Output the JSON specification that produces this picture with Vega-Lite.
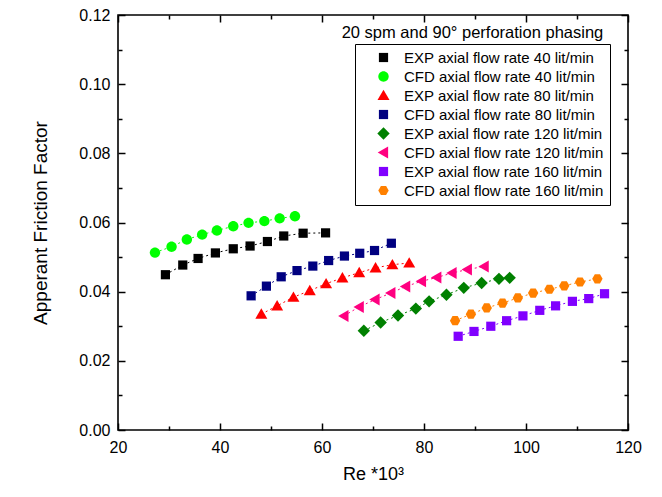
{
  "$schema": "https://vega.github.io/schema/vega-lite/v6.json",
  "width": 510,
  "height": 415,
  "autosize": {"type": "none"},
  "padding": {"left": 118, "top": 15, "right": 34, "bottom": 67},
  "background": "white",
  "config": {
    "font": "Liberation Sans",
    "view": {"stroke": "black", "strokeWidth": 1.6},
    "axis": {
      "grid": false,
      "domain": false,
      "tickColor": "black",
      "tickWidth": 1.5,
      "labelColor": "black",
      "titleColor": "black",
      "labelFont": "Liberation Sans",
      "titleFont": "Liberation Sans",
      "labelFontSize": 16,
      "titleFontSize": 18,
      "titleFontWeight": "normal"
    },
    "legend": {
      "labelFont": "Liberation Sans",
      "labelFontSize": 15,
      "labelColor": "black",
      "labelLimit": 400,
      "strokeColor": "black",
      "fillColor": "white",
      "padding": 6,
      "symbolOffset": 15,
      "labelOffset": 13,
      "rowPadding": 3,
      "symbolSize": 64
    }
  },
  "data": {
    "values": [
      {"s": "EXP axial flow rate 40 lit/min", "re": 29.3, "f": 0.0449},
      {"s": "EXP axial flow rate 40 lit/min", "re": 32.7, "f": 0.0477},
      {"s": "EXP axial flow rate 40 lit/min", "re": 35.7, "f": 0.0496},
      {"s": "EXP axial flow rate 40 lit/min", "re": 39.1, "f": 0.0512},
      {"s": "EXP axial flow rate 40 lit/min", "re": 42.6, "f": 0.0524},
      {"s": "EXP axial flow rate 40 lit/min", "re": 45.9, "f": 0.0532},
      {"s": "EXP axial flow rate 40 lit/min", "re": 49.3, "f": 0.0545},
      {"s": "EXP axial flow rate 40 lit/min", "re": 52.5, "f": 0.0561},
      {"s": "EXP axial flow rate 40 lit/min", "re": 56.3, "f": 0.0569},
      {"s": "EXP axial flow rate 40 lit/min", "re": 60.7, "f": 0.0570},
      {"s": "CFD axial flow rate 40 lit/min", "re": 27.25, "f": 0.0513},
      {"s": "CFD axial flow rate 40 lit/min", "re": 30.5, "f": 0.0530},
      {"s": "CFD axial flow rate 40 lit/min", "re": 33.5, "f": 0.0551},
      {"s": "CFD axial flow rate 40 lit/min", "re": 36.5, "f": 0.0565},
      {"s": "CFD axial flow rate 40 lit/min", "re": 39.4, "f": 0.0577},
      {"s": "CFD axial flow rate 40 lit/min", "re": 42.6, "f": 0.0589},
      {"s": "CFD axial flow rate 40 lit/min", "re": 45.6, "f": 0.0599},
      {"s": "CFD axial flow rate 40 lit/min", "re": 48.7, "f": 0.0604},
      {"s": "CFD axial flow rate 40 lit/min", "re": 51.7, "f": 0.0612},
      {"s": "CFD axial flow rate 40 lit/min", "re": 54.7, "f": 0.0618},
      {"s": "EXP axial flow rate 80 lit/min", "re": 48.1, "f": 0.0335},
      {"s": "EXP axial flow rate 80 lit/min", "re": 51.2, "f": 0.0359},
      {"s": "EXP axial flow rate 80 lit/min", "re": 54.4, "f": 0.0384},
      {"s": "EXP axial flow rate 80 lit/min", "re": 57.6, "f": 0.0403},
      {"s": "EXP axial flow rate 80 lit/min", "re": 60.8, "f": 0.0423},
      {"s": "EXP axial flow rate 80 lit/min", "re": 64.0, "f": 0.0440},
      {"s": "EXP axial flow rate 80 lit/min", "re": 67.3, "f": 0.0455},
      {"s": "EXP axial flow rate 80 lit/min", "re": 70.5, "f": 0.0469},
      {"s": "EXP axial flow rate 80 lit/min", "re": 73.8, "f": 0.0478},
      {"s": "EXP axial flow rate 80 lit/min", "re": 77.1, "f": 0.0483},
      {"s": "CFD axial flow rate 80 lit/min", "re": 46.1, "f": 0.0388},
      {"s": "CFD axial flow rate 80 lit/min", "re": 49.1, "f": 0.0416},
      {"s": "CFD axial flow rate 80 lit/min", "re": 52.0, "f": 0.0443},
      {"s": "CFD axial flow rate 80 lit/min", "re": 55.1, "f": 0.0461},
      {"s": "CFD axial flow rate 80 lit/min", "re": 58.2, "f": 0.0474},
      {"s": "CFD axial flow rate 80 lit/min", "re": 61.3, "f": 0.0490},
      {"s": "CFD axial flow rate 80 lit/min", "re": 64.4, "f": 0.0503},
      {"s": "CFD axial flow rate 80 lit/min", "re": 67.4, "f": 0.0511},
      {"s": "CFD axial flow rate 80 lit/min", "re": 70.3, "f": 0.0519},
      {"s": "CFD axial flow rate 80 lit/min", "re": 73.6, "f": 0.0540},
      {"s": "EXP axial flow rate 120 lit/min", "re": 68.2, "f": 0.0287},
      {"s": "EXP axial flow rate 120 lit/min", "re": 71.5, "f": 0.0311},
      {"s": "EXP axial flow rate 120 lit/min", "re": 74.9, "f": 0.0331},
      {"s": "EXP axial flow rate 120 lit/min", "re": 78.4, "f": 0.0351},
      {"s": "EXP axial flow rate 120 lit/min", "re": 81.0, "f": 0.0372},
      {"s": "EXP axial flow rate 120 lit/min", "re": 84.4, "f": 0.0391},
      {"s": "EXP axial flow rate 120 lit/min", "re": 87.8, "f": 0.0411},
      {"s": "EXP axial flow rate 120 lit/min", "re": 91.3, "f": 0.0425},
      {"s": "EXP axial flow rate 120 lit/min", "re": 94.7, "f": 0.0437},
      {"s": "EXP axial flow rate 120 lit/min", "re": 96.8, "f": 0.0440},
      {"s": "CFD axial flow rate 120 lit/min", "re": 64.3, "f": 0.0330},
      {"s": "CFD axial flow rate 120 lit/min", "re": 67.3, "f": 0.0356},
      {"s": "CFD axial flow rate 120 lit/min", "re": 70.4, "f": 0.0377},
      {"s": "CFD axial flow rate 120 lit/min", "re": 73.5, "f": 0.0396},
      {"s": "CFD axial flow rate 120 lit/min", "re": 76.4, "f": 0.0415},
      {"s": "CFD axial flow rate 120 lit/min", "re": 79.5, "f": 0.0430},
      {"s": "CFD axial flow rate 120 lit/min", "re": 82.5, "f": 0.0441},
      {"s": "CFD axial flow rate 120 lit/min", "re": 85.5, "f": 0.0454},
      {"s": "CFD axial flow rate 120 lit/min", "re": 88.5, "f": 0.0464},
      {"s": "CFD axial flow rate 120 lit/min", "re": 91.8, "f": 0.0473},
      {"s": "EXP axial flow rate 160 lit/min", "re": 86.7, "f": 0.0271},
      {"s": "EXP axial flow rate 160 lit/min", "re": 89.8, "f": 0.0285},
      {"s": "EXP axial flow rate 160 lit/min", "re": 93.1, "f": 0.0300},
      {"s": "EXP axial flow rate 160 lit/min", "re": 96.2, "f": 0.0316},
      {"s": "EXP axial flow rate 160 lit/min", "re": 99.4, "f": 0.0330},
      {"s": "EXP axial flow rate 160 lit/min", "re": 102.7, "f": 0.0346},
      {"s": "EXP axial flow rate 160 lit/min", "re": 105.8, "f": 0.0359},
      {"s": "EXP axial flow rate 160 lit/min", "re": 109.1, "f": 0.0372},
      {"s": "EXP axial flow rate 160 lit/min", "re": 112.3, "f": 0.0380},
      {"s": "EXP axial flow rate 160 lit/min", "re": 115.4, "f": 0.0394},
      {"s": "CFD axial flow rate 160 lit/min", "re": 86.1, "f": 0.0316},
      {"s": "CFD axial flow rate 160 lit/min", "re": 89.2, "f": 0.0335},
      {"s": "CFD axial flow rate 160 lit/min", "re": 92.3, "f": 0.0353},
      {"s": "CFD axial flow rate 160 lit/min", "re": 95.4, "f": 0.0367},
      {"s": "CFD axial flow rate 160 lit/min", "re": 98.4, "f": 0.0382},
      {"s": "CFD axial flow rate 160 lit/min", "re": 101.4, "f": 0.0396},
      {"s": "CFD axial flow rate 160 lit/min", "re": 104.6, "f": 0.0407},
      {"s": "CFD axial flow rate 160 lit/min", "re": 107.5, "f": 0.0417},
      {"s": "CFD axial flow rate 160 lit/min", "re": 110.6, "f": 0.0428},
      {"s": "CFD axial flow rate 160 lit/min", "re": 114.0, "f": 0.0437}
    ]
  },
  "layer": [
    {
      "mark": {"type": "line", "strokeDash": [2, 3], "strokeWidth": 1},
      "encoding": {
        "x": {
          "field": "re", "type": "quantitative",
          "scale": {"domain": [20, 120], "nice": false, "zero": false},
          "axis": {
            "orient": "bottom",
            "values": [20, 30, 40, 50, 60, 70, 80, 90, 100, 110, 120],
            "labelExpr": "datum.value % 20 === 0 ? datum.label : ''",
            "tickSize": {"condition": {"test": "datum.value % 20 === 0", "value": -7}, "value": -4},
            "labelPadding": 16,
            "labelFlush": false,
            "title": "Re *10³",
            "titlePadding": 10
          }
        },
        "y": {
          "field": "f", "type": "quantitative",
          "scale": {"domain": [0, 0.12], "nice": false, "zero": false},
          "axis": {
            "orient": "left",
            "values": [0, 0.01, 0.02, 0.03, 0.04, 0.05, 0.06, 0.07, 0.08, 0.09, 0.1, 0.11, 0.12],
            "format": ".2f",
            "labelExpr": "round(datum.value * 100) % 2 === 0 ? datum.label : ''",
            "tickSize": {"condition": {"test": "round(datum.value * 100) % 2 === 0", "value": -7}, "value": -4},
            "labelPadding": 15,
            "labelFlush": false,
            "title": "Apperant Friction Factor",
            "titleFontSize": 19,
            "titlePadding": 28
          }
        },
        "color": {
          "field": "s", "type": "nominal",
          "scale": {
            "domain": ["EXP axial flow rate 40 lit/min", "CFD axial flow rate 40 lit/min", "EXP axial flow rate 80 lit/min", "CFD axial flow rate 80 lit/min", "EXP axial flow rate 120 lit/min", "CFD axial flow rate 120 lit/min", "EXP axial flow rate 160 lit/min", "CFD axial flow rate 160 lit/min"],
            "range": ["#000000", "#00ff00", "#ff0000", "#000080", "#008000", "#ff0080", "#8000ff", "#ff8000"]
          },
          "legend": null
        }
      }
    },
    {
      "mark": {"type": "point", "filled": true, "size": 64, "opacity": 1, "strokeWidth": 0},
      "encoding": {
        "x": {
          "field": "re", "type": "quantitative",
          "axis": {
            "orient": "top",
            "values": [20, 30, 40, 50, 60, 70, 80, 90, 100, 110, 120],
            "labels": false,
            "tickSize": {"condition": {"test": "datum.value % 20 === 0", "value": -7}, "value": -4},
            "title": null
          }
        },
        "y": {
          "field": "f", "type": "quantitative",
          "axis": {
            "orient": "right",
            "values": [0, 0.01, 0.02, 0.03, 0.04, 0.05, 0.06, 0.07, 0.08, 0.09, 0.1, 0.11, 0.12],
            "labels": false,
            "tickSize": {"condition": {"test": "round(datum.value * 100) % 2 === 0", "value": -7}, "value": -4},
            "title": null
          }
        },
        "color": {
          "field": "s", "type": "nominal",
          "legend": {
            "title": null,
            "orient": "none",
            "legendX": 237,
            "legendY": 29
          }
        },
        "shape": {
          "field": "s", "type": "nominal",
          "scale": {
            "domain": ["EXP axial flow rate 40 lit/min", "CFD axial flow rate 40 lit/min", "EXP axial flow rate 80 lit/min", "CFD axial flow rate 80 lit/min", "EXP axial flow rate 120 lit/min", "CFD axial flow rate 120 lit/min", "EXP axial flow rate 160 lit/min", "CFD axial flow rate 160 lit/min"],
            "range": ["M-1.15,-1.15H1.15V1.15H-1.15Z", "M-1.3,0A1.3,1.3,0,1,1,1.3,0A1.3,1.3,0,1,1,-1.3,0Z", "M0,-1.45L1.5,1.15L-1.5,1.15Z", "M-1.15,-1.15H1.15V1.15H-1.15Z", "M0,-1.55L1.55,0L0,1.55L-1.55,0Z", "M-1.45,0L1.15,-1.5L1.15,1.5Z", "M-1.15,-1.15H1.15V1.15H-1.15Z", "M-1.3,0L-0.65,-1.15L0.65,-1.15L1.3,0L0.65,1.15L-0.65,1.15Z"]
          },
          "legend": {
            "title": null,
            "orient": "none",
            "legendX": 237,
            "legendY": 29
          }
        }
      }
    },
    {
      "data": {"values": [{"t": "20 spm and 90° perforation phasing"}]},
      "mark": {"type": "text", "fontSize": 16.5, "align": "center", "baseline": "alphabetic", "color": "black", "font": "Liberation Sans"},
      "encoding": {
        "x": {"datum": 89.5, "type": "quantitative", "axis": null},
        "y": {"datum": 0.1134, "type": "quantitative", "axis": null},
        "text": {"field": "t"}
      }
    }
  ],
  "resolve": {
    "axis": {"x": "independent", "y": "independent"},
    "legend": {"color": "independent", "shape": "independent"}
  }
}
